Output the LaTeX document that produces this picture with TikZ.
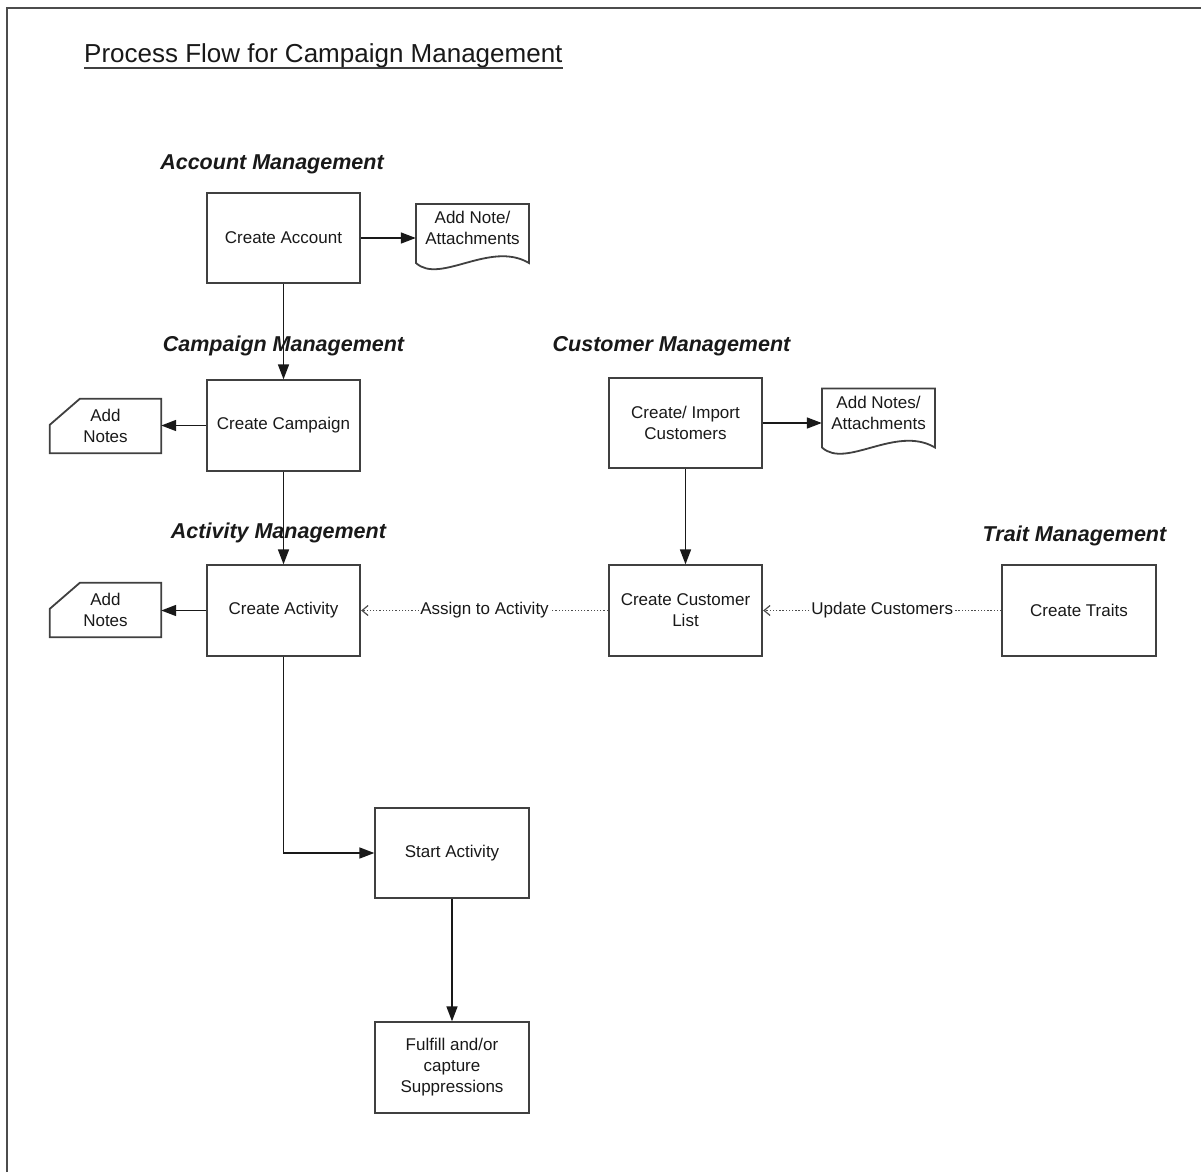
\documentclass[tikz,border=0pt]{standalone}
\usepackage{fontspec}
\setmainfont{Liberation Sans}
\usetikzlibrary{arrows.meta,calc}
\begin{document}
\begin{tikzpicture}[x=1pt,y=-1pt,
  box/.style={draw=black!75, line width=1.8pt, fill=white, minimum width=153.5pt, minimum height=90.5pt, align=center, font=\fontsize{17}{21}\selectfont, text=black!90, inner sep=2pt},
  shapetext/.style={align=center, font=\fontsize{17}{21}\selectfont, text=black!90, inner sep=0pt},
  shapeline/.style={draw=black!75, line width=1.8pt},
  heading/.style={font=\fontsize{21.5}{25}\selectfont\bfseries\itshape, text=black!90, inner sep=0pt},
  conn/.style={line width=1.6pt, black!90, -{Triangle[length=15pt,width=11pt]}},
  dotconn/.style={line width=1.5pt, black!70, dash pattern=on 1.3pt off 1.9pt, -{Straight Barb[length=6pt,width=10pt,line width=1.2pt]}},
  lbl/.style={fill=white, font=\fontsize{17}{21}\selectfont, text=black!90, inner sep=1.5pt}
]
\useasboundingbox (0,0) rectangle (1201,1172);
\fill[white] (0,0) rectangle (1201,1172);
% frame
\draw[line width=2pt, black!70] (7,1172) -- (7,8) -- (1201,8);

% title
\node[anchor=base west, inner sep=0pt, font=\fontsize{26}{30}\selectfont, text=black!90] (title) at (84,63) {Process Flow for Campaign Management};
\draw[line width=1.8pt, black!75] ([yshift=-5pt]title.base west) -- ([yshift=-5pt]title.base east);

% headings
\node[heading] (hacc) at (272,164) {Account Management};
\node[heading] (hcamp) at (283.5,346) {Campaign Management};
\node[heading] (hact) at (278.5,533) {Activity Management};
\node[heading] (hcust) at (671.5,346) {Customer Management};
\node[heading] (htrait) at (1074.5,536) {Trait Management};

% boxes
\node[box] (acc) at (283.5,238) {Create Account};
\node[box] (camp) at (283.5,425.5) {Create Campaign};
\node[box] (act) at (283.5,610.5) {Create Activity};
\node[box] (imp) at (685.5,423) {Create/ Import\\Customers};
\node[box] (list) at (685.5,610.5) {Create Customer\\List};
\node[box] (trait) at (1079,610.5) {Create Traits};
\node[box] (start) at (452,853) {Start Activity};
\node[box] (ful) at (452,1067.5) {Fulfill and/or\\capture\\Suppressions};

% documents
\node[shapetext, minimum width=113pt] (d1) at (472.5,228) {Add Note/\\Attachments};
\draw[shapeline] ($(d1.center)+(-56.5,-24)$) -- ($(d1.center)+(56.5,-24)$) -- ($(d1.center)+(56.5,35)$)
  .. controls ($(d1.center)+(17.5,12)$) and ($(d1.center)+(-32.5,57)$) .. ($(d1.center)+(-56.5,35)$) -- cycle;
\node[shapetext, minimum width=113pt] (d2) at (878.5,412.5) {Add Notes/\\Attachments};
\draw[shapeline] ($(d2.center)+(-56.5,-24)$) -- ($(d2.center)+(56.5,-24)$) -- ($(d2.center)+(56.5,35)$)
  .. controls ($(d2.center)+(17.5,12)$) and ($(d2.center)+(-32.5,57)$) .. ($(d2.center)+(-56.5,35)$) -- cycle;

% cards
\node[shapetext, minimum width=111pt, minimum height=54pt] (n1) at (105.5,426) {Add\\Notes};
\draw[shapeline] ($(n1.north west)+(30,0)$) -- (n1.north east) -- (n1.south east) -- (n1.south west) -- ($(n1.north west)+(0,26)$) -- cycle;
\node[shapetext, minimum width=111pt, minimum height=54pt] (n2) at (105.5,610) {Add\\Notes};
\draw[shapeline] ($(n2.north west)+(30,0)$) -- (n2.north east) -- (n2.south east) -- (n2.south west) -- ($(n2.north west)+(0,26)$) -- cycle;

% connectors
\draw[conn] (acc.east) -- (acc.east -| d1.west);
\draw[conn] (acc.south) -- (camp.north);
\draw[conn] (camp.west) -- (camp.west -| n1.east);
\draw[conn] (camp.south) -- (act.north);
\draw[conn] (act.west) -- (act.west -| n2.east);
\draw[conn] (imp.east) -- (imp.east -| d2.west);
\draw[conn] (imp.south) -- (list.north);
\draw[conn] (act.south) |- (start.west);
\draw[conn] (start.south) -- (ful.north);

\draw[dotconn] (list.west) -- node[lbl] (l1) {Assign to Activity} (act.east);
\draw[dotconn] (trait.west) -- node[lbl] (l2) {Update Customers} (list.east);
\end{tikzpicture}
\end{document}
